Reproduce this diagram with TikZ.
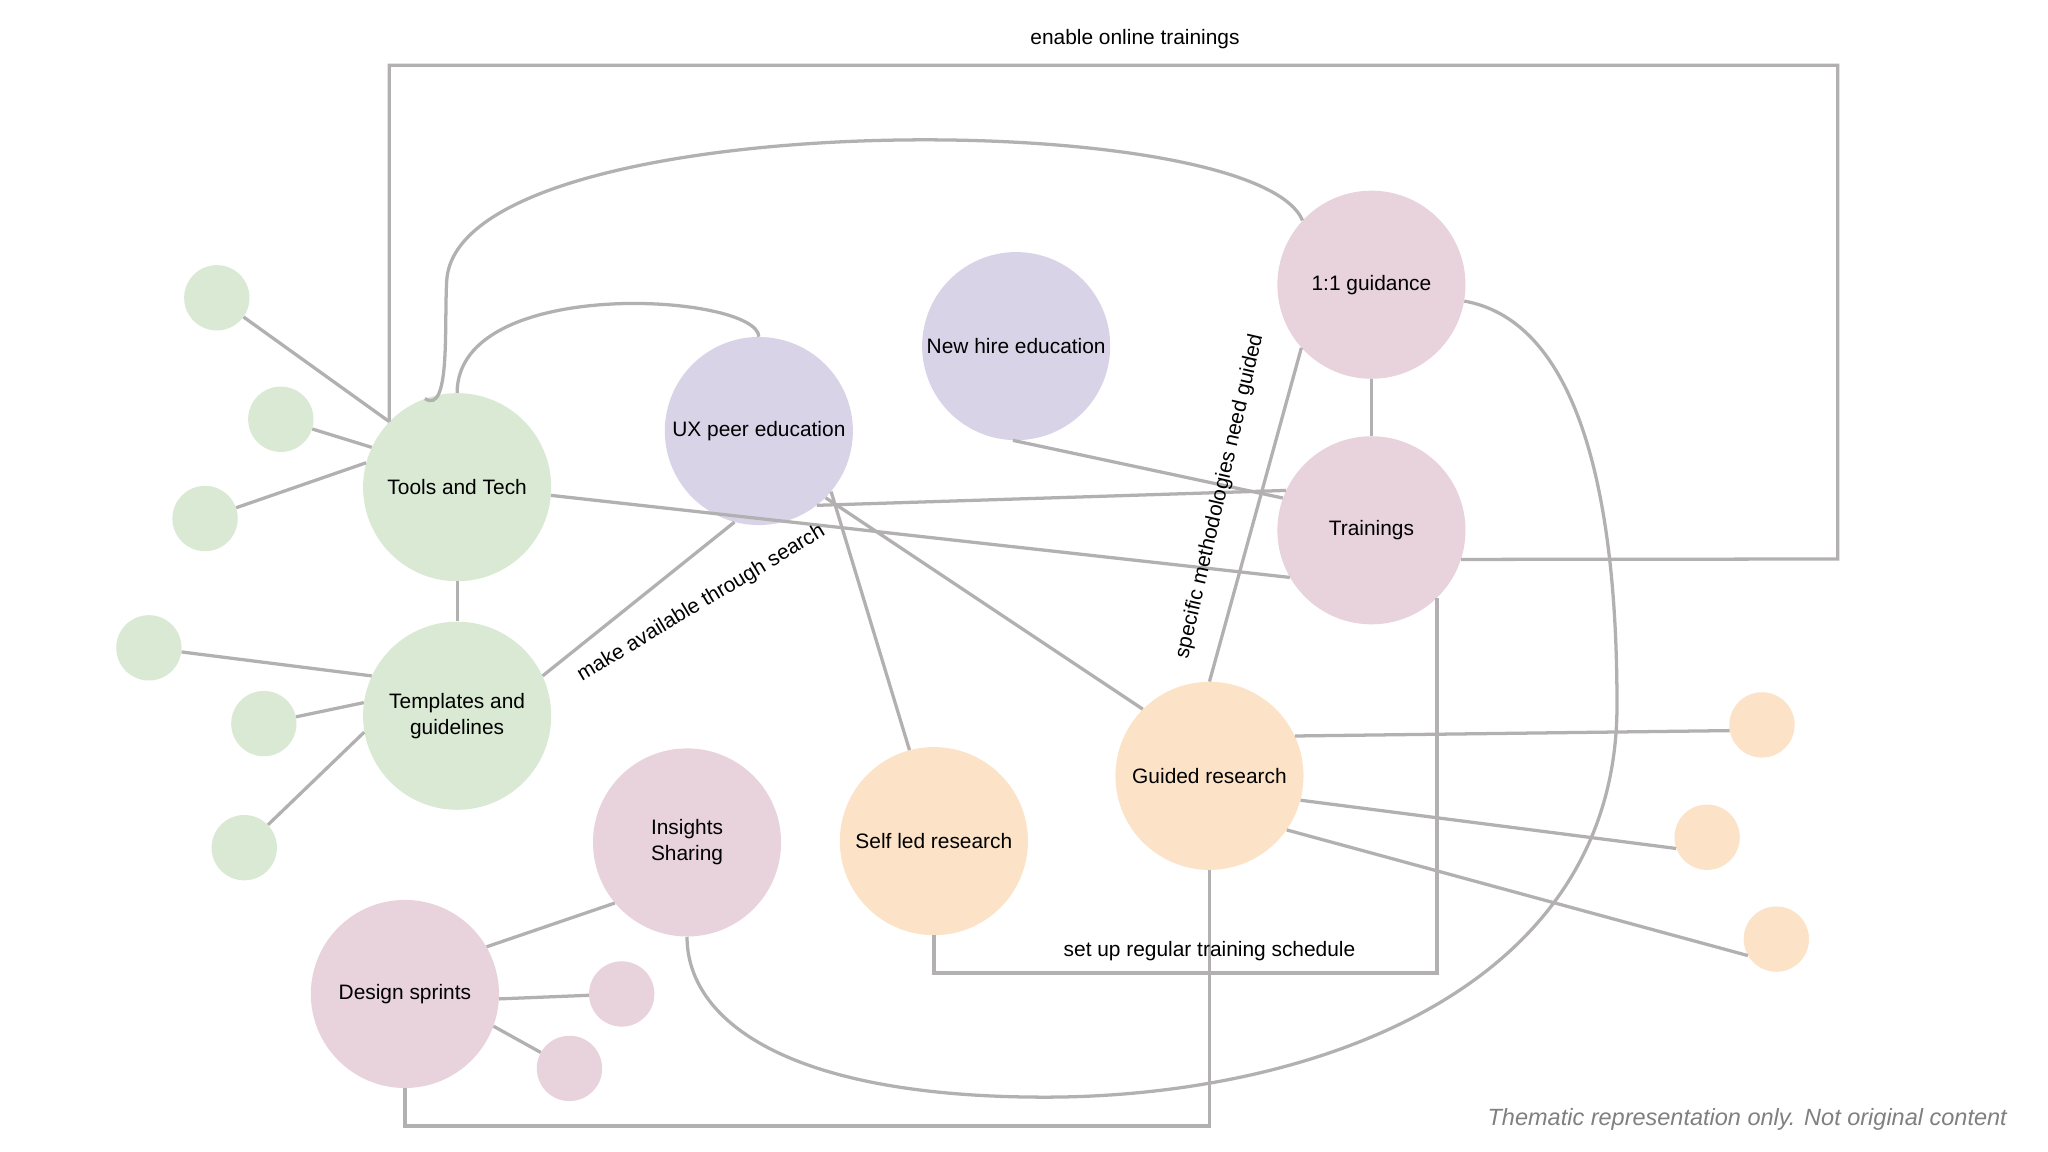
\documentclass[tikz,border=0pt]{standalone}
\usepackage{fontspec}
\setmainfont{Liberation Sans}
\begin{document}
\begin{tikzpicture}[x=1pt,y=-1pt,
  big/.style={circle,minimum size=144pt,inner sep=0pt,align=center,font=\fontsize{16}{20}\selectfont},
  sm/.style={circle,minimum size=50pt,inner sep=0pt},
  gr/.style={fill=cgreen},pu/.style={fill=cpurple},pk/.style={fill=cpink},or/.style={fill=corange},
  ln/.style={draw=cline,line width=2.5pt},
  lab/.style={font=\fontsize{16}{20}\selectfont}]
\definecolor{cgreen}{HTML}{D9E9D3}
\definecolor{cpurple}{HTML}{D9D3E8}
\definecolor{cpink}{HTML}{E8D2DC}
\definecolor{corange}{HTML}{FCE3C8}
\definecolor{cline}{HTML}{B3B0B2}
\fill[white] (0,0) rectangle (1568,882);
\useasboundingbox (0,0) rectangle (1568,882);
% nodes
\node[big,gr] (tools) at (350,373) {Tools and Tech};
\node[big,gr] (templ) at (350,548) {Templates and\\guidelines};
\node[big,pu] (ux) at (581,330) {UX peer education};
\node[big,pu] (newhire) at (778,265) {New hire education};
\node[big,pk] (guid) at (1050,218) {1:1 guidance};
\node[big,pk] (train) at (1050,406) {Trainings};
\node[big,or] (guided) at (926,594) {Guided research};
\node[big,or] (self) at (715,644) {Self led research};
\node[big,pk] (ins) at (526,645) {Insights\\Sharing};
\node[big,pk] (ds) at (310,761) {Design sprints};
\node[sm,gr] (g1) at (166,228) {};
\node[sm,gr] (g2) at (215,321) {};
\node[sm,gr] (g3) at (157,397) {};
\node[sm,gr] (g4) at (114,496) {};
\node[sm,gr] (g5) at (202,554) {};
\node[sm,gr] (g6) at (187,649) {};
\node[sm,pk] (p1) at (476,761) {};
\node[sm,pk] (p2) at (436,818) {};
\node[sm,or] (o1) at (1349,555) {};
\node[sm,or] (o2) at (1307,641) {};
\node[sm,or] (o3) at (1360,719) {};
\coordinate (c2) at (1407,50);
\coordinate (c3) at (1407,428);
\coordinate (c5) at (715,745);
\coordinate (c7) at (926,862);
% edges
\draw[ln] (g1) -- (tools.136);
\draw[ln] (g2) -- (tools.155);
\draw[ln] (g3) -- (tools.165);
\draw[ln] (g4) -- (templ.155);
\draw[ln] (g5) -- (templ.172);
\draw[ln] (g6) -- (templ.190);
\draw[ln] (tools) -- (templ);
\draw[ln] (tools.-5) -- (train.-150);
\draw[ln] (templ.25) -- (ux.-105);
\draw[ln] (tools.90) .. controls (350,210) and (580,225) .. (ux.90);
\draw[ln] (tools.110) .. controls (345,318) and (340,250) .. (342,215) .. controls (350,80) and (960,80) .. (guid.137);
\draw[ln] (tools.136) |- (c2) -- (c3) -- (train.-18);
\draw[ln] (newhire.-92) -- (train.160);
\draw[ln] (ux.-52) -- (train.155);
\draw[ln] (ux.-40) -- (self.105);
\draw[ln] (ux.-45) -- (guided.135);
\draw[ln] (guid) -- (train);
\draw[ln] (guided.90) -- (guid.-138);
\draw[ln] (guid.-10) .. controls (1230,250) and (1238,450) .. (1238,540) .. controls (1238,760) and (1000,840) .. (800,840) .. controls (600,840) and (526,780) .. (ins.-90);
\draw[ln] (train.-46) -- (train.-46 |- c5) -- (c5) -- (self.-90);
\draw[ln] (ds.-90) |- (c7) -- (guided.-90);
\draw[ln] (guided.25) -- (o1.-170);
\draw[ln] (guided.-15) -- (o2.-160);
\draw[ln] (guided.-35) -- (o3.-150);
\draw[ln] (ins.-140) -- (ds.30);
\draw[ln] (ds.-3) -- (p1);
\draw[ln] (ds.-20) -- (p2);
% labels
\node[lab] (l1) at (869,30) {enable online trainings};
\node[lab,rotate=31] (l2) at (537,462) {make available through search};
\node[lab,rotate=77] (l3) at (934,380) {specific methodologies need guided};
\node[lab] (l4) at (926,728) {set up regular training schedule};
\node[font=\fontsize{18}{22}\selectfont\itshape,text=gray,anchor=east] (l5) at (1540,857) {Thematic representation only. Not original content};
\end{tikzpicture}
\end{document}
